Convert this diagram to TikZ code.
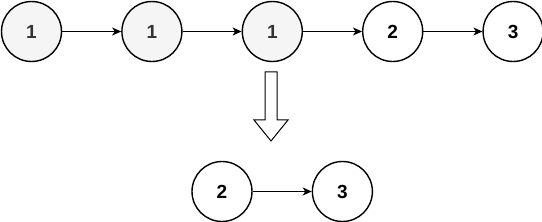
\documentclass[tikz,border=0pt]{standalone}
\usepackage{fontspec}
\setmainfont{Liberation Sans}
\usepackage{tikz}
\usetikzlibrary{arrows.meta, positioning}

\begin{document}
\begin{tikzpicture}[
    x=1pt, y=-1pt,
    node distance=59pt,
    every node/.style={circle, draw, line width=1.4pt, minimum size=60pt, inner sep=0pt, font=\fontsize{19}{19}\selectfont\bfseries},
    dup/.style={fill=black!4, text=black!80},
    keep/.style={fill=white, text=black},
    link/.style={-{Stealth[length=9pt, width=8pt, inset=2.5pt]}, line width=0.9pt}
]
\useasboundingbox (0,0) rectangle (542,222);

% Input list
\node[dup] (n1) at (31.5,31.5) {1};
\node[dup, right=of n1] (n2) {1};
\node[dup, right=of n2] (n3) {1};
\node[keep, right=of n3] (n4) {2};
\node[keep, right=of n4] (n5) {3};

\draw[link] (n1) -- (n2);
\draw[link] (n2) -- (n3);
\draw[link] (n3) -- (n4);
\draw[link] (n4) -- (n5);

% Transform arrow
\draw[line width=1pt, fill=white] (265,72) -- (277,72) -- (277,120) -- (288,120)
    -- (271,141) -- (254,120) -- (265,120) -- cycle;

% Result list
\node[keep] (m1) at (222,191.5) {2};
\node[keep, right=of m1] (m2) {3};

\draw[link] (m1) -- (m2);

\end{tikzpicture}
\end{document}
